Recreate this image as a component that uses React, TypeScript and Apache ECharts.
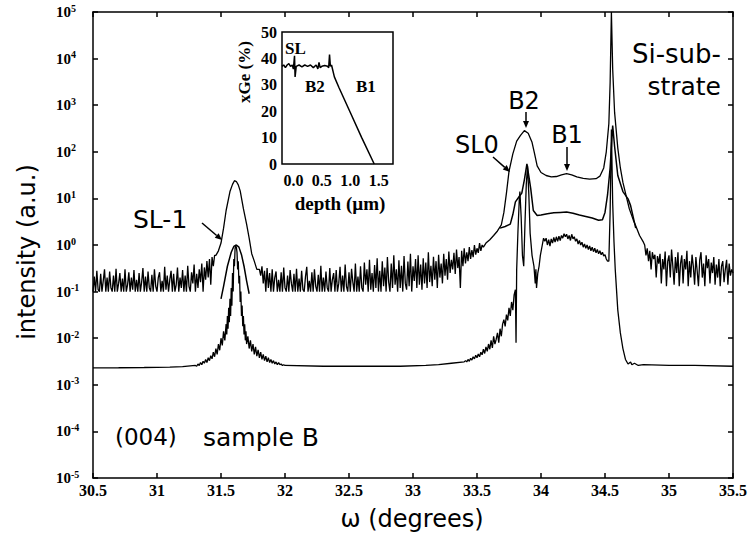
import React, { useEffect, useRef } from 'react';
import * as echarts from 'echarts';

// ---------------- DATA ----------------
const X_MIN = 30.5;
const X_MAX = 35.5;
const X_TICK = 0.5;
const Y_MIN = 1e-5;
const Y_MAX = 1e5;

// scan sampling step for regularly sampled noisy stretches
const SCAN_STEP = 0.01;

// --- top curve (measured): noisy background left of SL-1, starting at 30.50
const TOP_A_START = 30.5;
const topNoiseA = [
  0.1, 0.21, 0.1, 0.28, 0.11, 0.1, 0.24, 0.1, 0.17, 0.3, 0.1, 0.2,
  0.1, 0.27, 0.12, 0.1, 0.22, 0.1, 0.31, 0.1, 0.15, 0.25, 0.1, 0.19,
  0.1, 0.3, 0.1, 0.14, 0.26, 0.1, 0.2, 0.11, 0.29, 0.1, 0.18, 0.1,
  0.25, 0.1, 0.16, 0.32, 0.1, 0.21, 0.1, 0.27, 0.12, 0.1, 0.23, 0.1,
  0.3, 0.13, 0.1, 0.2, 0.26, 0.1, 0.17, 0.1, 0.34, 0.11, 0.22, 0.1,
  0.18, 0.28, 0.1, 0.24, 0.1, 0.14, 0.33, 0.1, 0.2, 0.12, 0.29, 0.1,
  0.22, 0.1, 0.36, 0.13, 0.1, 0.26, 0.15, 0.38, 0.1, 0.24, 0.12, 0.3,
  0.16, 0.4, 0.1, 0.33, 0.18, 0.45, 0.2, 0.5, 0.14, 0.55, 0.35, 0.6,
];
// SL-1 satellite peak of the top curve
const topSL1Peak: [number, number][] = [
  [31.46, 0.6], [31.48, 0.75], [31.5, 1.1], [31.52, 2.3], [31.54, 5.5], [31.57, 14],
  [31.59, 20], [31.605, 24], [31.62, 23], [31.635, 19.5], [31.65, 14.5], [31.675, 6],
  [31.7, 2.8], [31.72, 1.4], [31.74, 0.65], [31.76, 0.45], [31.78, 0.3],
];
// noisy background between SL-1 and SL0, starting at 31.80
const TOP_B_START = 31.8;
const topNoiseB = [
  0.3, 0.22, 0.35, 0.15, 0.28, 0.1, 0.32, 0.12, 0.25, 0.1, 0.3, 0.1, 0.2, 0.27, 0.1, 0.18,
  0.1, 0.26, 0.1, 0.33, 0.12, 0.1, 0.22, 0.1, 0.29, 0.15, 0.1, 0.24, 0.1, 0.31, 0.1, 0.19,
  0.1, 0.28, 0.11, 0.1, 0.21, 0.34, 0.1, 0.17, 0.1, 0.26, 0.1, 0.3, 0.13, 0.1, 0.23, 0.1,
  0.36, 0.1, 0.2, 0.1, 0.27, 0.12, 0.1, 0.32, 0.1, 0.18, 0.25, 0.1, 0.29, 0.1, 0.15, 0.34,
  0.1, 0.22, 0.1, 0.38, 0.13, 0.1, 0.26, 0.1, 0.31, 0.16, 0.1, 0.4, 0.1, 0.21, 0.1, 0.35,
  0.12, 0.1, 0.42, 0.14, 0.3, 0.1, 0.48, 0.11, 0.25, 0.1, 0.37, 0.12, 0.52, 0.1, 0.28, 0.1,
  0.45, 0.13, 0.33, 0.1, 0.55, 0.16, 0.1, 0.4, 0.12, 0.6, 0.14, 0.3, 0.1, 0.47, 0.12, 0.36,
  0.1, 0.58, 0.15, 0.11, 0.44, 0.13, 0.65, 0.1, 0.35, 0.17, 0.5, 0.12, 0.6, 0.14, 0.38, 0.11,
  0.52, 0.15, 0.42, 0.12, 0.7, 0.16, 0.36, 0.13, 0.56, 0.18, 0.45, 0.12, 0.62, 0.2, 0.4, 0.15,
  0.65, 0.22, 0.5, 0.18, 0.72, 0.25, 0.48, 0.3, 0.68, 0.24, 0.8, 0.32, 0.55, 0.12, 0.75, 0.35,
  0.85, 0.4, 0.7, 0.45, 0.9, 0.5, 0.78, 0.55, 1.0, 0.62, 0.85, 0.68, 1.1, 0.75, 1.0, 0.9,
];
// SL0 / B2 / B1 / Si-substrate region of the top curve
const topMainPeaks: [number, number][] = [
  [33.57, 1.1], [33.6, 1.3], [33.63, 1.6], [33.66, 2.0], [33.69, 2.7], [33.71, 5], [33.73, 13],
  [33.75, 38], [33.78, 90], [33.81, 170], [33.84, 225], [33.87, 285], [33.9, 250], [33.93, 160],
  [33.95, 90], [33.97, 50], [34.0, 36], [34.04, 31], [34.08, 29], [34.12, 29.5], [34.16, 32],
  [34.2, 34], [34.24, 32], [34.28, 29], [34.33, 27], [34.38, 26], [34.43, 26.5], [34.46, 30],
  [34.49, 45], [34.51, 100], [34.53, 400], [34.54, 3000], [34.55, 100000], [34.56, 6000],
  [34.575, 700], [34.6, 120], [34.62, 45], [34.64, 22], [34.67, 10], [34.69, 6], [34.72, 3.5],
  [34.74, 2.6], [34.77, 1.6], [34.8, 1.15],
];
// noisy background right of the substrate peak, starting at 34.81
const TOP_D_START = 34.81;
const topNoiseD = [
  1.0, 0.6, 0.85, 0.45, 0.75, 0.3, 0.7, 0.5, 0.62, 0.2, 0.58, 0.4, 0.65, 0.15,
  0.5, 0.3, 0.72, 0.13, 0.45, 0.6, 0.2, 0.8, 0.35, 0.14, 0.55, 0.25, 0.7, 0.13,
  0.4, 0.6, 0.15, 0.5, 0.3, 0.75, 0.13, 0.45, 0.2, 0.62, 0.35, 0.14, 0.55, 0.28,
  0.13, 0.48, 0.7, 0.2, 0.4, 0.13, 0.6, 0.32, 0.5, 0.15, 0.42, 0.25, 0.55, 0.14,
  0.38, 0.2, 0.5, 0.13, 0.35, 0.45, 0.16, 0.3, 0.48, 0.14, 0.4, 0.22, 0.3, 0.25,
];

// --- middle curve (smooth simulation)
const midSL1: [number, number][] = [
  [31.5, 0.07], [31.52, 0.13], [31.55, 0.35], [31.58, 0.7], [31.6, 0.93], [31.62, 1.0],
  [31.64, 0.9], [31.66, 0.62], [31.68, 0.35], [31.7, 0.17], [31.72, 0.09],
];
const midMain: [number, number][] = [
  [33.68, 2.3], [33.72, 2.5], [33.76, 2.8], [33.78, 4.5], [33.8, 8.4], [33.83, 11], [33.85, 13],
  [33.87, 25], [33.89, 55], [33.905, 30], [33.92, 16], [33.94, 5.5], [33.97, 4.3], [34.0, 4.4],
  [34.05, 4.7], [34.1, 4.9], [34.15, 5], [34.2, 5.1], [34.25, 4.8], [34.3, 4.4], [34.35, 4.1],
  [34.4, 3.8], [34.45, 3.4], [34.48, 3.5], [34.5, 5], [34.52, 12], [34.54, 45], [34.56, 365],
  [34.575, 130], [34.6, 31], [34.64, 14], [34.68, 9.8], [34.7, 7], [34.72, 4], [34.74, 2.3],
];

// --- bottom curve (simulation with low background)
const botBaseLeft: [number, number][] = [
  [30.5, 0.0023], [30.7, 0.00232], [30.9, 0.00235], [31.1, 0.0024], [31.2, 0.00245],
];
const BOT_SL1_WING_START = 31.3;
const botSL1LeftWing = [
  0.0026, 0.0025, 0.0028, 0.0026, 0.003, 0.0027, 0.0032, 0.0029, 0.0035, 0.003, 0.0038,
  0.0033, 0.0042, 0.0036, 0.005, 0.004, 0.006, 0.0045, 0.0075, 0.0055, 0.01, 0.007, 0.014,
  0.009, 0.02,
];
const botSL1Core: [number, number][] = [
  [31.545, 0.012], [31.55, 0.03], [31.555, 0.016], [31.56, 0.045], [31.565, 0.022], [31.57, 0.07],
  [31.575, 0.03], [31.58, 0.12], [31.585, 0.05], [31.59, 0.25], [31.595, 0.1], [31.6, 0.5],
  [31.605, 0.35], [31.61, 0.85], [31.615, 0.95], [31.62, 0.9], [31.625, 0.7], [31.63, 0.3],
  [31.635, 0.45], [31.64, 0.15], [31.645, 0.22], [31.65, 0.06], [31.655, 0.1], [31.66, 0.03],
  [31.665, 0.05], [31.67, 0.018], [31.675, 0.03], [31.68, 0.012], [31.685, 0.02], [31.69, 0.009],
  [31.695, 0.014], [31.7, 0.0075],
];
const BOT_SL1_TAIL_START = 31.71;
const botSL1RightWing = [
  0.011, 0.006, 0.009, 0.0052, 0.0075, 0.0045, 0.0065, 0.0041, 0.0056, 0.0038, 0.005, 0.0035,
  0.0045, 0.0033, 0.0041, 0.0031, 0.0038, 0.003, 0.0035, 0.0029, 0.0033, 0.0028, 0.0031, 0.0027,
  0.003, 0.0027, 0.0028, 0.0026, 0.0027, 0.0026,
];
const botBaseMid: [number, number][] = [
  [32.3, 0.0025], [32.6, 0.0025], [32.9, 0.0025], [33.1, 0.0026], [33.2, 0.0027], [33.3, 0.0029],
  [33.4, 0.0031],
];
const BOT_RISE_START = 33.41;
const botRise = [
  0.0033, 0.0031, 0.0035, 0.0032, 0.0037, 0.0034, 0.004, 0.0036, 0.0043, 0.0038,
  0.0046, 0.004, 0.005, 0.0044, 0.0058, 0.0047, 0.0065, 0.0052, 0.0075, 0.0058,
  0.009, 0.0062, 0.011, 0.0075, 0.0095, 0.013, 0.008, 0.016, 0.011, 0.02,
  0.025, 0.018, 0.032, 0.024, 0.045, 0.03, 0.06, 0.04, 0.085, 0.11,
];
const botB2Peaks: [number, number][] = [
  [33.805, 0.008], [33.81, 0.3], [33.82, 2], [33.83, 9], [33.835, 14], [33.845, 4], [33.855, 0.6],
  [33.865, 0.35], [33.875, 3], [33.885, 20], [33.895, 50], [33.905, 12], [33.915, 1.8],
  [33.93, 0.6], [33.945, 0.35], [33.955, 0.15], [33.96, 0.3], [33.965, 0.12], [33.975, 0.25],
  [33.985, 0.35], [33.995, 0.6], [34.01, 1.0], [34.02, 1.4], [34.03, 1.2],
];
const BOT_B1_START = 34.04;
const botB1Noise = [
  1.4, 1.0, 1.3, 0.95, 1.35, 1.1, 1.45, 1.15, 1.5, 1.2,
  1.55, 1.25, 1.6, 1.4, 1.75, 1.5, 1.7, 1.35, 1.6, 1.25,
  1.7, 1.35, 1.5, 1.2, 1.35, 1.05, 1.25, 1.0, 1.15, 0.9,
  1.05, 0.85, 1.0, 0.8, 0.95, 0.75, 0.9, 0.72, 0.85, 0.68,
  0.8, 0.65, 0.75, 0.62, 0.7, 0.58, 0.62, 0.5, 0.45,
];
const botSubstrate: [number, number][] = [
  [34.53, 0.45], [34.54, 5], [34.55, 300], [34.56, 8], [34.57, 1.2], [34.58, 0.3], [34.6, 0.04],
  [34.62, 0.013], [34.64, 0.006], [34.66, 0.0035], [34.68, 0.0028], [34.7, 0.0031], [34.71, 0.0027],
  [34.73, 0.0029], [34.76, 0.0026], [34.8, 0.0027], [35.0, 0.0026], [35.2, 0.0026], [35.5, 0.0025],
];

// --- inset: Ge content profile vs depth
const insetXMin = -0.2;
const insetXMax = 1.75;
const insetYMax = 50;
const insetProfile: [number, number][] = [
  [-0.2, 37], [-0.17, 37.5], [-0.14, 36.5], [-0.11, 37.5], [-0.08, 38], [-0.05, 37], [-0.02, 37.5],
  [0.0, 36], [0.02, 41], [0.03, 33], [0.05, 37], [0.1, 37.5], [0.15, 36.8], [0.2, 37.5],
  [0.25, 37], [0.3, 37.5], [0.35, 36.5], [0.4, 37.5], [0.43, 36], [0.45, 38.5], [0.47, 36.5],
  [0.5, 37], [0.55, 37.3], [0.6, 37], [0.62, 36.5], [0.635, 41.5], [0.65, 37], [0.67, 37.5],
  [0.72, 33], [0.8, 29], [1.0, 19.5], [1.2, 10], [1.42, 0],
];

// ---------------- helpers ----------------
function sampled(start: number, step: number, values: number[]): [number, number][] {
  return values.map((v, i) => [+(start + i * step).toFixed(4), v]);
}

const topCurve = [
  ...sampled(TOP_A_START, SCAN_STEP, topNoiseA),
  ...topSL1Peak,
  ...sampled(TOP_B_START, SCAN_STEP, topNoiseB),
  ...topMainPeaks,
  ...sampled(TOP_D_START, SCAN_STEP, topNoiseD),
];
const bottomCurve = [
  ...botBaseLeft,
  ...sampled(BOT_SL1_WING_START, SCAN_STEP, botSL1LeftWing),
  ...botSL1Core,
  ...sampled(BOT_SL1_TAIL_START, SCAN_STEP, botSL1RightWing),
  ...botBaseMid,
  ...sampled(BOT_RISE_START, SCAN_STEP, botRise),
  ...botB2Peaks,
  ...sampled(BOT_B1_START, SCAN_STEP, botB1Noise),
  ...botSubstrate,
];

function arrow(x1: number, y1: number, x2: number, y2: number) {
  const dx = x2 - x1;
  const dy = y2 - y1;
  const L = Math.hypot(dx, dy);
  const ux = dx / L;
  const uy = dy / L;
  const hl = 7;
  const hw = 3;
  const bx = x2 - ux * hl;
  const by = y2 - uy * hl;
  return [
    { type: 'line', shape: { x1, y1, x2: bx, y2: by }, style: { stroke: '#000', lineWidth: 1.5 } },
    {
      type: 'polygon',
      shape: { points: [[x2, y2], [bx - uy * hw, by + ux * hw], [bx + uy * hw, by - ux * hw]] },
      style: { fill: '#000' },
    },
  ];
}

function txt(text: string, x: number, y: number, size: number, align: string, opts: any = {}) {
  return {
    type: 'text',
    x,
    y,
    rotation: opts.rotation || 0,
    style: {
      text,
      fill: '#000',
      fontSize: size,
      fontFamily: opts.family || 'DejaVu Sans',
      fontWeight: opts.weight || 'normal',
      textAlign: align,
      align,
      textVerticalAlign: 'middle',
      verticalAlign: 'middle',
    },
  };
}

const SANS = 'DejaVu Sans';
const SERIF = 'Liberation Serif';

const lineSeries = (data: [number, number][], xi: number, yi: number, width = 1.3) => ({
  type: 'line',
  xAxisIndex: xi,
  yAxisIndex: yi,
  data,
  showSymbol: false,
  symbol: 'none',
  lineStyle: { color: '#000', width },
  clip: true,
  animation: false,
});

const axisLineStyle = { lineStyle: { color: '#000', width: 1.5 } };
const tickStyle = { inside: true, length: 5, lineStyle: { color: '#000', width: 1.5 } };

const option: any = {
  animation: false,
  backgroundColor: '#fff',
  grid: [
    { left: 93, right: 21, top: 12, bottom: 56 },
    {
      left: 282, top: 32, width: 111, height: 132, show: true, backgroundColor: '#fff',
      borderColor: '#000', borderWidth: 1.5, z: 5,
    },
  ],
  xAxis: [
    {
      type: 'value', gridIndex: 0, min: X_MIN, max: X_MAX, interval: X_TICK, position: 'bottom',
      axisLine: axisLineStyle, axisTick: tickStyle, splitLine: { show: false },
      axisLabel: { color: '#000', fontFamily: SERIF, fontWeight: 'bold', fontSize: 16, margin: 4 },
    },
    {
      type: 'value', gridIndex: 0, min: X_MIN, max: X_MAX, interval: X_TICK, position: 'top',
      axisLine: axisLineStyle, axisTick: tickStyle, splitLine: { show: false },
      axisLabel: { show: false },
    },
    {
      type: 'value', gridIndex: 1, min: insetXMin, max: insetXMax, interval: 0.1, position: 'bottom',
      z: 6,
      axisLine: { show: false }, axisTick: { show: false }, splitLine: { show: false },
      axisLabel: {
        color: '#000', fontFamily: SERIF, fontWeight: 'bold', fontSize: 16, margin: 8,
        showMinLabel: true, showMaxLabel: true,
        formatter: (v: number) => {
          const h = v * 2;
          if (v > -1e-6 && Math.abs(h - Math.round(h)) < 1e-6) return v.toFixed(1);
          return '';
        },
      },
    },
  ],
  yAxis: [
    {
      type: 'log', logBase: 10, gridIndex: 0, min: Y_MIN, max: Y_MAX, interval: 1, splitNumber: 10,
      position: 'left', axisLine: axisLineStyle, axisTick: tickStyle,
      splitLine: { show: false }, minorTick: { show: false },
      axisLabel: {
        color: '#000', margin: 37, align: 'left',
        formatter: (v: number) => `{b|10}{s|${Math.round(Math.log10(v))}}`,
        rich: {
          b: { fontFamily: SERIF, fontWeight: 'bold', fontSize: 15, color: '#000', lineHeight: 18 },
          s: { fontFamily: SERIF, fontWeight: 'bold', fontSize: 10, color: '#000', verticalAlign: 'top', lineHeight: 18 },
        },
      },
    },
    {
      type: 'log', logBase: 10, gridIndex: 0, min: Y_MIN, max: Y_MAX, interval: 1, splitNumber: 10,
      position: 'right', axisLine: axisLineStyle, axisTick: tickStyle,
      splitLine: { show: false }, minorTick: { show: false }, axisLabel: { show: false },
    },
    {
      type: 'value', gridIndex: 1, min: 0, max: insetYMax, interval: 10, z: 6,
      axisLine: { show: false }, axisTick: { show: false }, splitLine: { show: false },
      axisLabel: { color: '#000', fontFamily: SERIF, fontWeight: 'bold', fontSize: 16, margin: 5 },
    },
  ],
  series: [
    lineSeries(topCurve, 0, 0, 1.3),
    lineSeries(midSL1, 0, 0, 1.5),
    lineSeries(midMain, 0, 0, 1.5),
    lineSeries(bottomCurve, 0, 0, 1.3),
    { ...lineSeries(insetProfile, 2, 2, 1.5), z: 7 },
  ],
  graphic: [
    txt('intensity (a.u.)', 27, 252, 24, 'center', { rotation: Math.PI / 2, family: SANS }),
    txt('ω (degrees)', 412, 519, 24, 'center', { family: SANS }),
    txt('SL-1', 133, 219, 25, 'left', { family: SANS }),
    ...arrow(202, 223, 222, 240),
    txt('SL0', 455, 145, 24, 'left', { family: SANS }),
    ...arrow(493, 157, 510, 172),
    txt('B2', 524, 101, 24, 'center', { family: SANS }),
    ...arrow(526, 112, 526, 128),
    txt('B1', 567, 135, 24, 'center', { family: SANS }),
    ...arrow(567, 147, 567, 171),
    txt('Si-sub-', 721, 54, 26, 'right', { family: SANS }),
    txt('strate', 721, 86, 25, 'right', { family: SANS }),
    txt('(004)', 115, 437, 23, 'left', { family: SANS }),
    txt('sample B', 203, 437, 25, 'left', { family: SANS }),
    // inset annotations
    txt('xGe (%)', 244, 72, 17, 'center', { rotation: Math.PI / 2, family: SERIF, weight: 'bold' }),
    txt('depth (µm)', 340, 203, 19, 'center', { family: SERIF, weight: 'bold' }),
    txt('SL', 285, 48, 17, 'left', { family: SERIF, weight: 'bold' }),
    txt('B2', 305, 86, 17, 'left', { family: SERIF, weight: 'bold' }),
    txt('B1', 356, 86, 17, 'left', { family: SERIF, weight: 'bold' }),
  ].map((g: any) => ({ ...g, z: 100 })),
};

export default function App() {
  const ref = useRef<HTMLDivElement>(null);
  useEffect(() => {
    if (!ref.current) return;
    const chart = echarts.init(ref.current, undefined, { renderer: 'svg' });
    chart.setOption(option);
    return () => chart.dispose();
  }, []);
  return (
    <div
      ref={ref}
      style={{ position: 'fixed', left: 0, top: 0, width: 754, height: 534, background: '#fff' }}
    />
  );
}
